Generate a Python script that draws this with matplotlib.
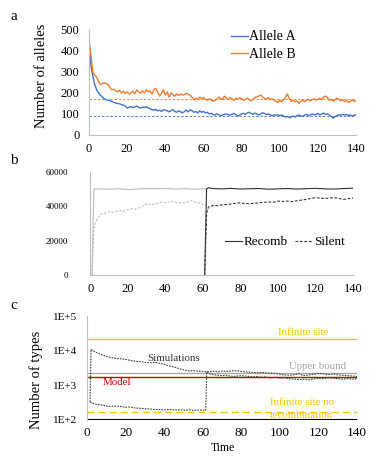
import matplotlib
matplotlib.use("Agg")
import matplotlib.pyplot as plt
import numpy as np

plt.rcParams['font.family'] = ['Liberation Serif', 'DejaVu Serif']

# ---------------- Panel a data ----------------
time_a = list(range(0, 141))
allele_a = [450, 330, 280, 240, 215, 200, 190, 180, 172, 168, 166, 163, 160, 155, 152, 150, 148, 145, 142, 138,
            128, 132, 135, 130, 133, 138, 132, 128, 133, 130, 135, 128, 125, 120, 118, 122, 115, 118, 112, 120,
            118, 115, 110, 116, 120, 112, 108, 115, 110, 105, 112, 118, 110, 120, 115, 108, 112, 105, 115, 108,
            112, 105, 108, 100, 103, 98, 95, 100, 96, 92, 95, 98, 100, 96, 94, 99, 102, 96, 90, 95,
            100, 103, 98, 105, 108, 102, 98, 104, 100, 95, 100, 106, 102, 97, 100, 96, 92, 95, 94, 96,
            92, 95, 90, 85, 88, 82, 86, 90, 85, 92, 95, 90, 88, 94, 98, 92, 95, 100, 96, 98,
            102, 96, 100, 104, 98, 100, 95, 88, 80, 88, 92, 96, 94, 98, 95, 97, 93, 95, 90, 94, 95]
allele_b = [450, 380, 300, 285, 275, 255, 240, 245, 248, 245, 240, 225, 215, 218, 210, 205, 212, 200, 208, 198,
            205, 195, 200, 210, 195, 215, 205, 198, 210, 200, 215, 205, 210, 195, 215, 222, 205, 185, 200, 215,
            190, 205, 180, 200, 190, 185, 195, 188, 195, 190, 192, 198, 195, 188, 180, 168, 175, 170, 180, 172,
            178, 170, 165, 172, 168, 160, 165, 170, 180, 175, 168, 185, 175, 168, 178, 172, 165, 175, 170, 178,
            172, 165, 170, 175, 168, 162, 170, 178, 182, 185, 190, 180, 175, 170, 178, 168, 172, 165, 160, 155,
            165, 158, 168, 180, 195, 172, 160, 165, 158, 162, 150, 160, 168, 158, 165, 170, 162, 168, 172, 165,
            170, 175, 168, 180, 185, 178, 165, 170, 160, 168, 175, 170, 162, 168, 158, 165, 155, 160, 168, 160, 165]
ref_a = 90
ref_b = 172

# ---------------- Panel b data ----------------
recomb1_t = [1, 2, 5, 10, 15, 20, 25, 30, 35, 40, 45, 50, 55, 60, 62]
recomb1 = [0, 50000, 50100, 49900, 50200, 49700, 50000, 50300, 50100, 50400, 50000, 50200, 49900, 50100, 50000]
recomb2_t = [61, 62, 63, 65, 70, 75, 80, 85, 90, 95, 100, 105, 110, 115, 120, 125, 130, 135, 140]
recomb2 = [0, 50000, 50800, 50300, 50100, 50400, 50000, 50200, 50300, 49900, 50100, 50300, 50000, 50200, 50400,
           50100, 50000, 50300, 50500]
silent1_t = [1, 2, 3, 4, 5, 6, 8, 10, 12, 14, 16, 18, 20, 22, 24, 26, 28, 30, 32, 34, 36, 38, 40, 42, 44, 46,
             48, 50, 52, 54, 56, 58, 60, 62]
silent1 = [0, 27000, 31000, 33000, 34500, 35500, 36000, 36800, 36500, 37000, 37500, 37200, 38000, 38500, 38300,
           39000, 40000, 41500, 41000, 41200, 41800, 42500, 42000, 42500, 42800, 42300, 42000, 42000, 42500, 43200,
           42500, 42000, 41200, 40500]
silent2_t = [61, 62, 63, 64, 66, 68, 70, 72, 75, 78, 80, 82, 85, 88, 90, 92, 95, 98, 100, 102, 105, 108, 110,
             112, 115, 118, 120, 122, 125, 128, 130, 132, 135, 138, 140]
silent2 = [0, 36000, 39500, 40000, 40500, 40300, 40800, 41000, 41300, 41800, 42000, 41600, 41500, 41800, 42000,
           42300, 42500, 42400, 43000, 42800, 43000, 42700, 43200, 43500, 44000, 44600, 45000, 44800, 44500, 44800,
           45000, 44600, 44000, 44500, 44800]

# ---------------- Panel c data ----------------
sim1_t = [1.5, 2, 3, 5, 8, 10, 12, 15, 18, 20, 22, 25, 28, 30, 33, 35, 38, 40, 42, 45, 48, 50, 53, 55, 58, 60,
          62, 64, 66, 68, 70, 72, 74, 76, 78, 80, 82, 84, 86, 88, 90, 92, 95, 98, 100, 102, 105, 108, 110, 112,
          115, 118, 120, 122, 125, 128, 130, 132, 135, 138, 140]
sim1 = [330, 11000, 10000, 8800, 7500, 6800, 6400, 6000, 5800, 5600, 5300, 5000, 4800, 4600, 4500, 4600, 4300,
        4000, 3700, 3400, 3000, 2800, 2600, 2650, 2550, 2500, 2450, 2500, 2550, 2450, 2600, 2500, 2550, 2650,
        2600, 2500, 2450, 2400, 2350, 2300, 2350, 2300, 2250, 2200, 2100, 2000, 1950, 2050, 2150, 1900, 2000,
        2100, 2200, 2150, 2050, 2100, 2000, 1950, 1900, 1850, 1800]
sim2_t = [1.5, 3, 5, 8, 10, 12, 15, 18, 20, 22, 25, 28, 30, 33, 35, 38, 40, 43, 45, 48, 50, 53, 55, 58, 60, 61.5,
          62, 64, 66, 68, 70, 72, 74, 76, 78, 80, 82, 84, 86, 88, 90, 92, 95, 98, 100, 102, 105, 108, 110, 112,
          115, 118, 120, 122, 125, 128, 130, 132, 135, 138, 140]
sim2 = [330, 300, 280, 265, 250, 245, 250, 240, 230, 235, 220, 215, 210, 205, 200, 198, 195, 200, 192, 195, 190,
        195, 188, 192, 190, 188, 2450, 2100, 2000, 1950, 1900, 1950, 1850, 1800, 1850, 1900, 1850, 1800, 1750,
        1800, 1700, 1750, 1650, 1700, 1600, 1650, 1550, 1500, 1450, 1500, 1450, 1550, 1600, 1550, 1650, 1600,
        1550, 1500, 1550, 1500, 1550]
infinite_site = 22500
upper_bound = 2250
model = 1750
inf_no_recomb = 172
floor_line = 100

xticks = [0, 20, 40, 60, 80, 100, 120, 140]

fig = plt.figure(figsize=(3.74, 4.67), dpi=100)
spine_gray = '#BFBFBF'

def style(ax):
    for s in ['top', 'right']:
        ax.spines[s].set_visible(False)
    ax.spines['left'].set_color(spine_gray)
    ax.spines['bottom'].set_color(spine_gray)
    ax.tick_params(length=0, pad=4)
    ax.set_xlim(0, 140)
    ax.set_xticks(xticks)

# Panel a
ax1 = fig.add_axes([0.238, 0.711, 0.714, 0.225])
style(ax1)
ax1.plot(time_a, allele_a, color='#4472C4', lw=1.0, label='Allele A')
ax1.plot(time_a, allele_b, color='#ED7D31', lw=1.0, label='Allele B')
ax1.axhline(ref_a, color='#4472C4', lw=0.6, ls=(0, (3, 2)))
ax1.axhline(ref_b, color='#ED7D31', lw=0.6, ls=(0, (3, 2)))
ax1.set_ylim(0, 500)
ax1.set_yticks([0, 100, 200, 300, 400, 500])
ax1.tick_params(labelsize=9)
ax1.tick_params(axis='y', pad=7)
ax1.tick_params(axis='x', pad=6)
ax1.set_ylabel('Number of alleles', fontsize=10.5)
ax1.yaxis.set_label_coords(-0.155, 0.567)
ax1.legend(loc='upper left', bbox_to_anchor=(0.495, 1.088), frameon=False, fontsize=10,
           handlelength=1.2, handletextpad=0.1, labelspacing=0.3, borderpad=0.2)
fig.text(0.027, 0.964, 'a', fontsize=11, va='center')

# Panel b
ax2 = fig.add_axes([0.241, 0.411, 0.703, 0.221])
style(ax2)
ax2.plot(recomb1_t, recomb1, color='#BBBBBB', lw=0.8)
ax2.plot(silent1_t, silent1, color='#BBBBBB', lw=0.8, ls=(0, (2, 1.5)))
ax2.plot(recomb2_t, recomb2, color='#333333', lw=0.8, label='Recomb')
ax2.plot(silent2_t, silent2, color='#333333', lw=0.8, ls=(0, (2.5, 1.5)), label='Silent')
ax2.set_ylim(0, 60000)
ax2.set_yticks([0, 20000, 40000, 60000])
ax2.tick_params(axis='y', labelsize=6.5, pad=16)
ax2.tick_params(axis='x', labelsize=9, pad=6)
ax2.legend(loc='center', bbox_to_anchor=(0.74, 0.32), ncol=2, frameon=False, fontsize=9.5,
           handlelength=1.3, handletextpad=0.1, columnspacing=0.6)
fig.text(0.027, 0.657, 'b', fontsize=11, va='center')

# Panel c
ax3 = fig.add_axes([0.233, 0.101, 0.722, 0.222])
style(ax3)
ax3.set_yscale('log')
ax3.set_ylim(100, 100000)
ax3.set_yticks([100, 1000, 10000, 100000])
ax3.set_yticklabels(['1E+2', '1E+3', '1E+4', '1E+5'])
ax3.minorticks_off()
ax3.spines['bottom'].set_visible(False)
ax3.axhline(infinite_site, color='#FFC000', lw=1.0)
ax3.axhline(upper_bound, color='#A5A5A5', lw=0.9)
ax3.axhline(model, color='#C00000', lw=1.0)
ax3.axhline(inf_no_recomb, color='#FFC000', lw=1.0, ls=(0, (5, 3)))
ax3.axhline(floor_line, color='black', lw=1.5)
ax3.plot(sim1_t, sim1, color='#404040', lw=0.8, ls=(0, (1.5, 1)))
ax3.plot(sim2_t, sim2, color='#404040', lw=0.8, ls=(0, (1.5, 1)))
ax3.tick_params(axis='y', labelsize=8, pad=7)
ax3.tick_params(axis='x', labelsize=9.5, pad=5)
ax3.set_xlabel('Time', fontsize=8.5)
ax3.xaxis.set_label_coords(0.504, -0.21)
ax3.set_ylabel('Number of types', fontsize=10.5)
ax3.yaxis.set_label_coords(-0.163, 0.385)
ax3.text(112, 33000, 'Infinite site', color='#FFC000', fontsize=7.8, ha='center', va='center')
ax3.text(44.6, 6000, 'Simulations', color='#333333', fontsize=7.8, ha='center', va='center')
ax3.text(119.7, 3600, 'Upper bound', color='#A5A5A5', fontsize=7.8, ha='center', va='center')
ax3.text(15.5, 1170, 'Model', color='#C00000', fontsize=7.8, ha='center', va='center')
ax3.text(94.8, 311, 'Infinite site no', color='#FFC000', fontsize=7.8, ha='left', va='center')
ax3.text(94.8, 131, 'recombination', color='#FFC000', fontsize=7.8, ha='left', va='center')
fig.text(0.027, 0.345, 'c', fontsize=11, va='center')

fig.savefig('out.png', dpi=100)
